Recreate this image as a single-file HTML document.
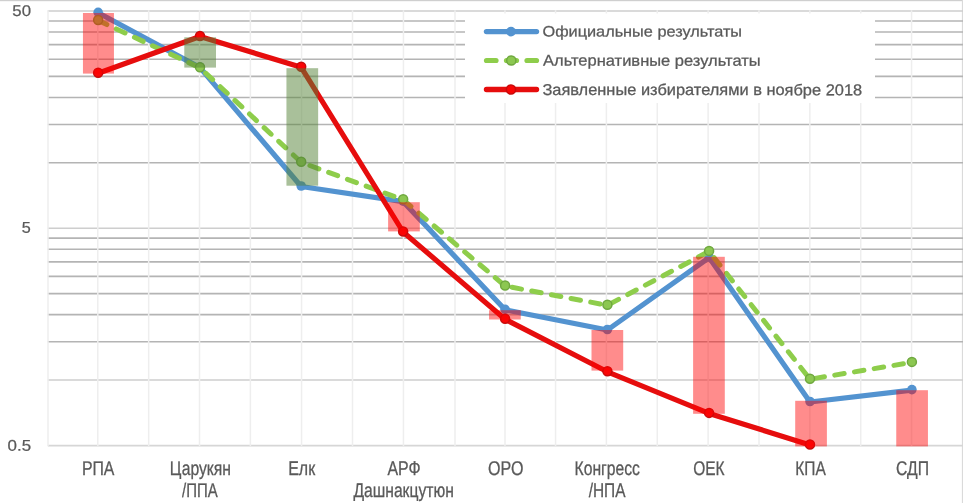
<!DOCTYPE html>
<html><head><meta charset="utf-8"><title>Chart</title>
<style>html,body{margin:0;padding:0;background:#fff}body{width:963px;height:503px;overflow:hidden}svg{display:block}</style>
</head><body>
<svg width="963" height="503" viewBox="0 0 963 503">
<rect x="0" y="0" width="963" height="503" fill="#fff"/>
<rect x="0" y="0" width="963" height="1.2" fill="#cfcfcf"/>
<rect x="961.9" y="0" width="1.1" height="503" fill="#dadada"/>
<g stroke="#b4b4b4" stroke-width="1.6">
<line x1="47.80" y1="20.94" x2="963" y2="20.94"/>
<line x1="47.80" y1="32.05" x2="963" y2="32.05"/>
<line x1="47.80" y1="44.64" x2="963" y2="44.64"/>
<line x1="47.80" y1="59.19" x2="963" y2="59.19"/>
<line x1="47.80" y1="76.38" x2="963" y2="76.38"/>
<line x1="47.80" y1="97.43" x2="963" y2="97.43"/>
<line x1="47.80" y1="124.57" x2="963" y2="124.57"/>
<line x1="47.80" y1="162.82" x2="963" y2="162.82"/>
<line x1="47.80" y1="238.14" x2="963" y2="238.14"/>
<line x1="47.80" y1="249.25" x2="963" y2="249.25"/>
<line x1="47.80" y1="261.84" x2="963" y2="261.84"/>
<line x1="47.80" y1="276.39" x2="963" y2="276.39"/>
<line x1="47.80" y1="293.58" x2="963" y2="293.58"/>
<line x1="47.80" y1="314.63" x2="963" y2="314.63"/>
<line x1="47.80" y1="341.77" x2="963" y2="341.77"/>
</g>
<g stroke="#cecece" stroke-width="1.6">
<line x1="47.80" y1="11.00" x2="963" y2="11.00"/>
<line x1="47.80" y1="228.20" x2="963" y2="228.20"/>
<line x1="47.80" y1="380.02" x2="963" y2="380.02"/>
</g>
<line x1="47.80" y1="445.7" x2="963" y2="445.7" stroke="#d6d6d6" stroke-width="1.7"/>
<g stroke="#eeeeee" stroke-width="1.5">
<line x1="48.00" y1="10.2" x2="48.00" y2="446.09999999999997"/>
<line x1="97.80" y1="10.2" x2="97.80" y2="446.09999999999997"/>
<line x1="148.66" y1="10.2" x2="148.66" y2="446.09999999999997"/>
<line x1="199.52" y1="10.2" x2="199.52" y2="446.09999999999997"/>
<line x1="250.38" y1="10.2" x2="250.38" y2="446.09999999999997"/>
<line x1="301.54" y1="10.2" x2="301.54" y2="446.09999999999997"/>
<line x1="352.50" y1="10.2" x2="352.50" y2="446.09999999999997"/>
<line x1="403.46" y1="10.2" x2="403.46" y2="446.09999999999997"/>
<line x1="455.00" y1="10.2" x2="455.00" y2="446.09999999999997"/>
<line x1="504.98" y1="10.2" x2="504.98" y2="446.09999999999997"/>
<line x1="555.54" y1="10.2" x2="555.54" y2="446.09999999999997"/>
<line x1="606.40" y1="10.2" x2="606.40" y2="446.09999999999997"/>
<line x1="657.26" y1="10.2" x2="657.26" y2="446.09999999999997"/>
<line x1="708.12" y1="10.2" x2="708.12" y2="446.09999999999997"/>
<line x1="758.98" y1="10.2" x2="758.98" y2="446.09999999999997"/>
<line x1="809.84" y1="10.2" x2="809.84" y2="446.09999999999997"/>
<line x1="860.70" y1="10.2" x2="860.70" y2="446.09999999999997"/>
<line x1="911.56" y1="10.2" x2="911.56" y2="446.09999999999997"/>
</g>
<rect x="465" y="13.5" width="410" height="89.5" fill="#fff"/>
<polyline points="98.15,12.80 200.00,67.60 301.20,186.50 403.15,201.60 505.10,309.80 607.40,330.00 709.10,257.60 810.00,402.00 911.90,390.10" fill="none" stroke="#5393d0" stroke-width="5.2" stroke-linejoin="round" stroke-linecap="round"/>
<circle cx="98.15" cy="12.30" r="4.8" fill="#5393d0"/>
<circle cx="200.00" cy="67.10" r="4.8" fill="#5393d0"/>
<circle cx="301.20" cy="186.00" r="4.8" fill="#5393d0"/>
<circle cx="403.15" cy="201.10" r="4.8" fill="#5393d0"/>
<circle cx="505.10" cy="309.30" r="4.8" fill="#5393d0"/>
<circle cx="607.40" cy="329.50" r="4.8" fill="#5393d0"/>
<circle cx="709.10" cy="257.10" r="4.8" fill="#5393d0"/>
<circle cx="810.00" cy="401.50" r="4.8" fill="#5393d0"/>
<circle cx="911.90" cy="389.60" r="4.8" fill="#5393d0"/>
<polyline points="98.15,20.50 200.00,67.80 301.20,162.30 403.15,199.80 505.10,286.00 607.40,305.30 709.10,251.40 810.00,379.20 911.90,362.40" fill="none" stroke="#8ecd4b" stroke-width="5.0" stroke-linejoin="round" stroke-linecap="round" stroke-dasharray="9.6 10.4"/>
<circle cx="98.15" cy="20.00" r="4.5" fill="#8cc751" stroke="#6fa83f" stroke-width="1.5"/>
<circle cx="200.00" cy="67.30" r="4.5" fill="#8cc751" stroke="#6fa83f" stroke-width="1.5"/>
<circle cx="301.20" cy="161.80" r="4.5" fill="#8cc751" stroke="#6fa83f" stroke-width="1.5"/>
<circle cx="403.15" cy="199.30" r="4.5" fill="#8cc751" stroke="#6fa83f" stroke-width="1.5"/>
<circle cx="505.10" cy="285.50" r="4.5" fill="#8cc751" stroke="#6fa83f" stroke-width="1.5"/>
<circle cx="607.40" cy="304.80" r="4.5" fill="#8cc751" stroke="#6fa83f" stroke-width="1.5"/>
<circle cx="709.10" cy="250.90" r="4.5" fill="#8cc751" stroke="#6fa83f" stroke-width="1.5"/>
<circle cx="810.00" cy="378.70" r="4.5" fill="#8cc751" stroke="#6fa83f" stroke-width="1.5"/>
<circle cx="911.90" cy="361.90" r="4.5" fill="#8cc751" stroke="#6fa83f" stroke-width="1.5"/>
<polyline points="98.15,73.20 200.00,36.50 301.20,67.30 403.15,232.00 505.10,319.30 607.40,371.80 709.10,413.40 810.00,445.00" fill="none" stroke="#e60d0d" stroke-width="5.2" stroke-linejoin="round" stroke-linecap="round"/>
<circle cx="98.15" cy="72.70" r="4.5" fill="#fa0505" stroke="#c80a0a" stroke-width="1.5"/>
<circle cx="200.00" cy="36.00" r="4.5" fill="#fa0505" stroke="#c80a0a" stroke-width="1.5"/>
<circle cx="301.20" cy="66.80" r="4.5" fill="#fa0505" stroke="#c80a0a" stroke-width="1.5"/>
<circle cx="403.15" cy="231.50" r="4.5" fill="#fa0505" stroke="#c80a0a" stroke-width="1.5"/>
<circle cx="505.10" cy="318.80" r="4.5" fill="#fa0505" stroke="#c80a0a" stroke-width="1.5"/>
<circle cx="607.40" cy="371.30" r="4.5" fill="#fa0505" stroke="#c80a0a" stroke-width="1.5"/>
<circle cx="709.10" cy="412.90" r="4.5" fill="#fa0505" stroke="#c80a0a" stroke-width="1.5"/>
<circle cx="810.00" cy="444.50" r="4.5" fill="#fa0505" stroke="#c80a0a" stroke-width="1.5"/>
<rect x="82.95" y="13" width="31.0" height="60.60" fill="rgba(255,0,0,0.45)"/>
<rect x="184.30" y="37.3" width="31.7" height="30.30" fill="rgba(84,130,53,0.5)"/>
<rect x="286.45" y="68.2" width="31.7" height="117.50" fill="rgba(84,130,53,0.5)"/>
<rect x="388.10" y="202.2" width="31.7" height="29.20" fill="rgba(255,0,0,0.45)"/>
<rect x="489.05" y="310.2" width="31.7" height="9.30" fill="rgba(255,0,0,0.45)"/>
<rect x="591.50" y="330" width="31.7" height="40.60" fill="rgba(255,0,0,0.45)"/>
<rect x="693.10" y="256.8" width="31.7" height="157.00" fill="rgba(255,0,0,0.45)"/>
<rect x="795.20" y="400.8" width="31.7" height="45.60" fill="rgba(255,0,0,0.45)"/>
<rect x="896.25" y="390.2" width="31.7" height="56.20" fill="rgba(255,0,0,0.45)"/>
<line x1="486.5" y1="31.6" x2="536.5" y2="31.6" stroke="#5393d0" stroke-width="5.4" stroke-linecap="round"/>
<circle cx="511" cy="31.6" r="4.9" fill="#5393d0"/>
<line x1="486.5" y1="60.5" x2="496" y2="60.5" stroke="#8ecd4b" stroke-width="5.2" stroke-linecap="round"/>
<line x1="527" y1="60.5" x2="536.5" y2="60.5" stroke="#8ecd4b" stroke-width="5.2" stroke-linecap="round"/>
<line x1="506.5" y1="60.5" x2="516.5" y2="60.5" stroke="#8ecd4b" stroke-width="5.2" stroke-linecap="round"/>
<circle cx="511.3" cy="60.5" r="4.6" fill="#8cc751" stroke="#6fa83f" stroke-width="1.5"/>
<line x1="486.5" y1="89.5" x2="536.5" y2="89.5" stroke="#e60d0d" stroke-width="5.4" stroke-linecap="round"/>
<circle cx="511" cy="89.5" r="4.6" fill="#fa0505" stroke="#c80a0a" stroke-width="1.5"/>
<text transform="translate(542.48,36.50) rotate(0.03) scale(0.8153,0.7542)" font-size="20" fill="#595959" stroke="#595959" stroke-width="0.35" font-family="Liberation Sans, Arial, sans-serif">Официальные результаты</text>
<text transform="translate(543.00,65.60) rotate(0.03) scale(0.8255,0.7682)" font-size="20" fill="#595959" stroke="#595959" stroke-width="0.35" font-family="Liberation Sans, Arial, sans-serif">Альтернативные результаты</text>
<text transform="translate(542.38,95.00) rotate(0.03) scale(0.8209,0.7821)" font-size="20" fill="#595959" stroke="#595959" stroke-width="0.35" font-family="Liberation Sans, Arial, sans-serif">Заявленные избирателями в ноябре 2018</text>
<text transform="translate(12.36,15.90) rotate(0.03) scale(0.8390,0.7751)" font-size="20" fill="#595959" stroke="#595959" stroke-width="0.3" font-family="Liberation Sans, Arial, sans-serif">50</text>
<text transform="translate(21.79,232.70) rotate(0.03) scale(0.8111,0.7751)" font-size="20" fill="#595959" stroke="#595959" stroke-width="0.3" font-family="Liberation Sans, Arial, sans-serif">5</text>
<text transform="translate(7.55,450.80) rotate(0.03) scale(0.8462,0.7751)" font-size="20" fill="#595959" stroke="#595959" stroke-width="0.3" font-family="Liberation Sans, Arial, sans-serif">0.5</text>
<text transform="translate(81.91,474.80) rotate(0.03) scale(0.7924,0.9916)" font-size="20" fill="#595959" stroke="#595959" stroke-width="0.3" font-family="Liberation Sans, Arial, sans-serif">РПА</text>
<text transform="translate(169.72,474.80) rotate(0.03) scale(0.7853,0.9916)" font-size="20" fill="#595959" stroke="#595959" stroke-width="0.3" font-family="Liberation Sans, Arial, sans-serif">Царукян</text>
<text transform="translate(182.10,497.30) rotate(0.03) scale(0.7474,0.9916)" font-size="20" fill="#595959" stroke="#595959" stroke-width="0.3" font-family="Liberation Sans, Arial, sans-serif">/ППА</text>
<text transform="translate(288.20,474.80) rotate(0.03) scale(0.7984,0.9916)" font-size="20" fill="#595959" stroke="#595959" stroke-width="0.3" font-family="Liberation Sans, Arial, sans-serif">Елк</text>
<text transform="translate(387.40,474.80) rotate(0.03) scale(0.7951,0.9916)" font-size="20" fill="#595959" stroke="#595959" stroke-width="0.3" font-family="Liberation Sans, Arial, sans-serif">АРФ</text>
<text transform="translate(353.40,497.30) rotate(0.03) scale(0.7827,0.9916)" font-size="20" fill="#595959" stroke="#595959" stroke-width="0.3" font-family="Liberation Sans, Arial, sans-serif">Дашнакцутюн</text>
<text transform="translate(488.10,474.80) rotate(0.03) scale(0.8024,0.9916)" font-size="20" fill="#595959" stroke="#595959" stroke-width="0.3" font-family="Liberation Sans, Arial, sans-serif">ОРО</text>
<text transform="translate(574.52,474.80) rotate(0.03) scale(0.7852,0.9916)" font-size="20" fill="#595959" stroke="#595959" stroke-width="0.3" font-family="Liberation Sans, Arial, sans-serif">Конгресс</text>
<text transform="translate(588.70,497.30) rotate(0.03) scale(0.7705,0.9916)" font-size="20" fill="#595959" stroke="#595959" stroke-width="0.3" font-family="Liberation Sans, Arial, sans-serif">/НПА</text>
<text transform="translate(693.23,474.80) rotate(0.03) scale(0.7744,0.9916)" font-size="20" fill="#595959" stroke="#595959" stroke-width="0.3" font-family="Liberation Sans, Arial, sans-serif">ОЕК</text>
<text transform="translate(795.24,474.80) rotate(0.03) scale(0.7760,0.9916)" font-size="20" fill="#595959" stroke="#595959" stroke-width="0.3" font-family="Liberation Sans, Arial, sans-serif">КПА</text>
<text transform="translate(896.02,474.80) rotate(0.03) scale(0.7848,0.9916)" font-size="20" fill="#595959" stroke="#595959" stroke-width="0.3" font-family="Liberation Sans, Arial, sans-serif">СДП</text>
</svg>
</body></html>
